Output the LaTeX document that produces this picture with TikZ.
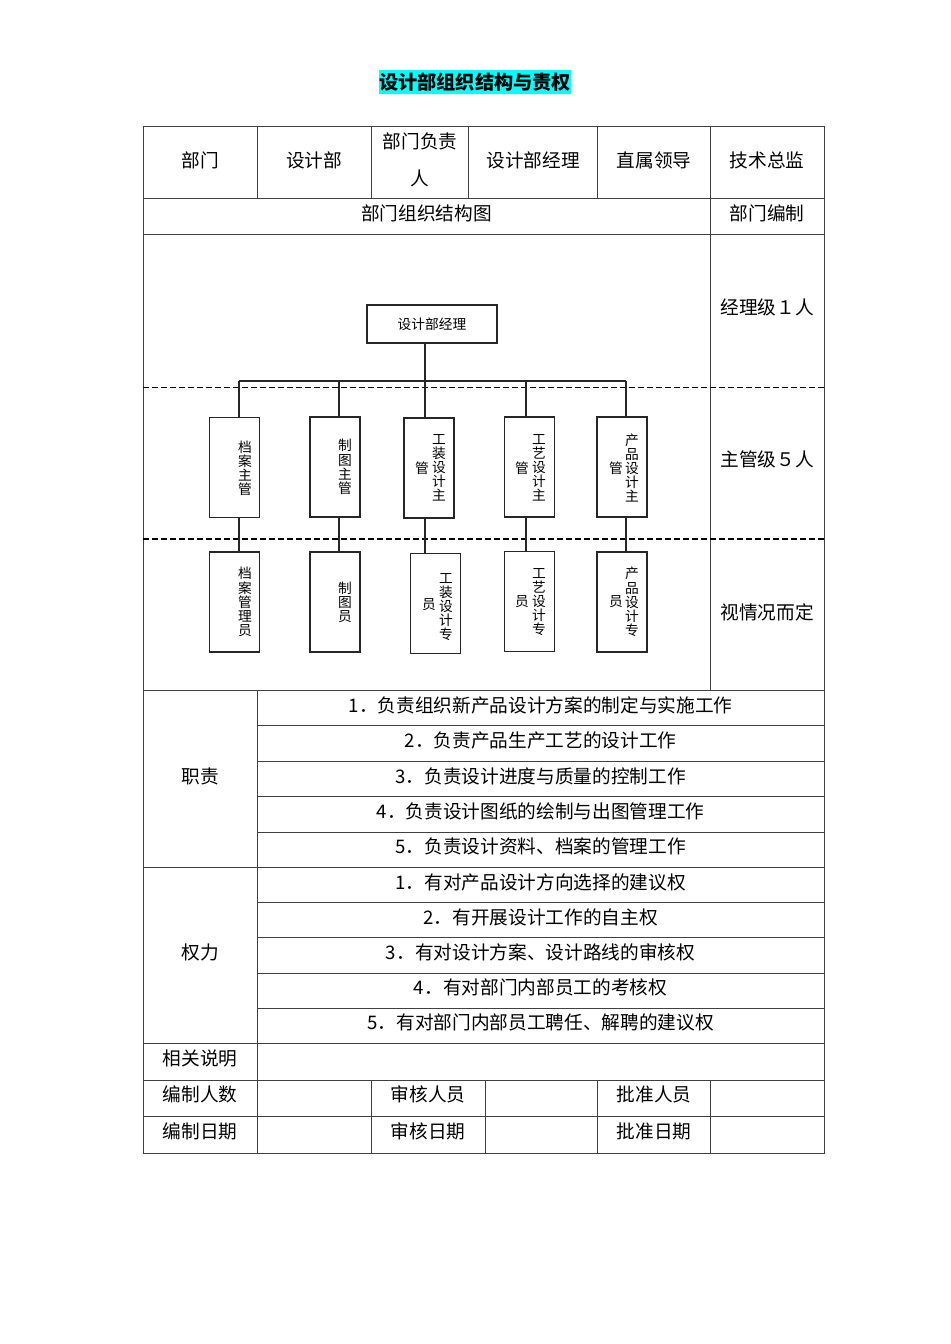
\documentclass[tikz,border=0pt]{standalone}
\usepackage{fontspec}
\setmainfont{Noto Sans CJK SC}
\definecolor{hl}{RGB}{0,255,255}
\begin{document}
\begin{tikzpicture}[x=0.75pt,y=-0.75pt,
  tl/.style={draw=black!75, line width=0.75pt},
  txt/.style={font=\fontsize{14}{16}\selectfont, inner sep=0pt},
  box/.style={draw=black!85, line width=1.2pt, minimum width=37.5pt, minimum height=75pt, inner sep=0pt},
  conn/.style={draw=black!85, line width=1pt},
  vt/.style={font=\fontsize{10.3}{10.6}\selectfont, align=center, inner sep=0pt},
  dsh/.style={draw=black, line width=1pt, dash pattern=on 4.5pt off 2.25pt}]
\useasboundingbox[fill=white] (0,0) rectangle (950,1344);

% title
\node[fill=hl, inner xsep=0pt, inner ysep=0pt, minimum height=18pt,
      font=\bfseries\fontsize{14.4}{16}\selectfont] (title) at (475,82) {设计部组织结构与责权};

% table frame
\draw[tl] (143,127) rectangle (824,1153);
\foreach \y in {199,235,690,867,1043,1080,1116} \draw[tl] (143,\y) -- (824,\y);
\foreach \y in {725,761,796,832,902,937,973,1008} \draw[tl] (257,\y) -- (824,\y);
\foreach \x in {257,371,468,597,710} \draw[tl] (\x,127) -- (\x,199);
\draw[tl] (710,199) -- (710,690);
\draw[tl] (257,690) -- (257,1153);
\foreach \x in {371,485,597,710} \draw[tl] (\x,1080) -- (\x,1153);

% row 1
\node[txt] (h1) at (200,160) {部门};
\node[txt] (h2) at (314,160) {设计部};
\node[txt, align=center, font=\fontsize{14}{27.75}\selectfont] (h3) at (420,160) {部门负责\\人};
\node[txt] (h4) at (533,160) {设计部经理};
\node[txt] (h5) at (654,160) {直属领导};
\node[txt] (h6) at (767,160) {技术总监};
% row 2
\node[txt] (s1) at (426.5,213) {部门组织结构图};
\node[txt] (s2) at (767,213) {部门编制};
% right column
\node[txt] (r1) at (767,307) {经理级１人};
\node[txt] (r2) at (767,459) {主管级５人};
\node[txt] (r3) at (767,612) {视情况而定};

% dashed separators
\draw[dsh] (143,387.5) -- (824,387.5);
\draw[dsh] (143,539) -- (824,539);

% org chart
\node[draw=black!85, line width=1.2pt, minimum width=97.5pt, minimum height=28.5pt,
      inner sep=0pt, font=\fontsize{10.3}{12}\selectfont] (mgr) at (432,324) {设计部经理};

\node[box] (b1) at (234.5,467.5) {};
\node[box] (b2) at (335,467) {};
\node[box] (b3) at (429,468) {};
\node[box] (b4) at (529.5,467) {};
\node[box] (b5) at (622,467) {};
\node[box] (c1) at (234.5,602) {};
\node[box] (c2) at (335,602) {};
\node[box] (c3) at (435.5,603.5) {};
\node[box] (c4) at (529.5,601.5) {};
\node[box] (c5) at (622,602) {};

\coordinate (k1) at (239,381);
\coordinate (k2) at (339,381);
\coordinate (k3) at (425,381);
\coordinate (k4) at (526,381);
\coordinate (k5) at (626,381);

\draw[conn] (mgr.south -| k3) -- (k3);
\draw[conn] (k1) -- (k5);
\draw[conn] (k1) -- (b1.north -| k1);
\draw[conn] (k2) -- (b2.north -| k2);
\draw[conn] (k3) -- (b3.north -| k3);
\draw[conn] (k4) -- (b4.north -| k4);
\draw[conn] (k5) -- (b5.north -| k5);
\draw[conn] (b1.south -| k1) -- (c1.north -| k1);
\draw[conn] (b2.south -| k2) -- (c2.north -| k2);
\draw[conn] (b3.south -| k3) -- (c3.north -| k3);
\draw[conn] (b4.south -| k4) -- (c4.north -| k4);
\draw[conn] (b5.south -| k5) -- (c5.north -| k5);

% vertical texts, row 2
\node[vt] (tb1) at (245,468) {档\\案\\主\\管};
\node[vt] (tb2) at (345,467) {制\\图\\主\\管};
\node[vt] (tb3a) at (439,468) {工\\装\\设\\计\\主};
\node[vt] (tb3b) at (422,468) {管};
\node[vt] (tb4a) at (539,468) {工\\艺\\设\\计\\主};
\node[vt] (tb4b) at (522,468) {管};
\node[vt] (tb5a) at (632,468) {产\\品\\设\\计\\主};
\node[vt] (tb5b) at (616,468) {管};
% vertical texts, row 3
\node[vt] (tc1) at (245,602) {档\\案\\管\\理\\员};
\node[vt] (tc2) at (345,602) {制\\图\\员};
\node[vt] (tc3a) at (446,607) {工\\装\\设\\计\\专};
\node[vt] (tc3b) at (429,605) {员};
\node[vt] (tc4a) at (539,602) {工\\艺\\设\\计\\专};
\node[vt] (tc4b) at (522,602) {员};
\node[vt] (tc5a) at (632,602) {产\\品\\设\\计\\专};
\node[vt] (tc5b) at (616,602) {员};

% duties
\node[txt] (zz) at (200,776) {职责};
\node[txt] (z1) at (540.5,705) {1．负责组织新产品设计方案的制定与实施工作};
\node[txt] (z2) at (540.5,740) {2．负责产品生产工艺的设计工作};
\node[txt] (z3) at (540.5,776) {3．负责设计进度与质量的控制工作};
\node[txt] (z4) at (540.5,811) {4．负责设计图纸的绘制与出图管理工作};
\node[txt] (z5) at (540.5,846) {5．负责设计资料、档案的管理工作};
% authority
\node[txt] (qq) at (200,952) {权力};
\node[txt] (q1) at (540.5,882) {1．有对产品设计方向选择的建议权};
\node[txt] (q2) at (540.5,917) {2．有开展设计工作的自主权};
\node[txt] (q3) at (540.5,952) {3．有对设计方案、设计路线的审核权};
\node[txt] (q4) at (540.5,987) {4．有对部门内部员工的考核权};
\node[txt] (q5) at (540.5,1022) {5．有对部门内部员工聘任、解聘的建议权};

% bottom rows
\node[txt] (x0) at (200,1058) {相关说明};
\node[txt] (x1) at (200,1094) {编制人数};
\node[txt] (x2) at (428,1094) {审核人员};
\node[txt] (x3) at (654,1094) {批准人员};
\node[txt] (y1) at (200,1131) {编制日期};
\node[txt] (y2) at (428,1131) {审核日期};
\node[txt] (y3) at (654,1131) {批准日期};
\end{tikzpicture}
\end{document}
